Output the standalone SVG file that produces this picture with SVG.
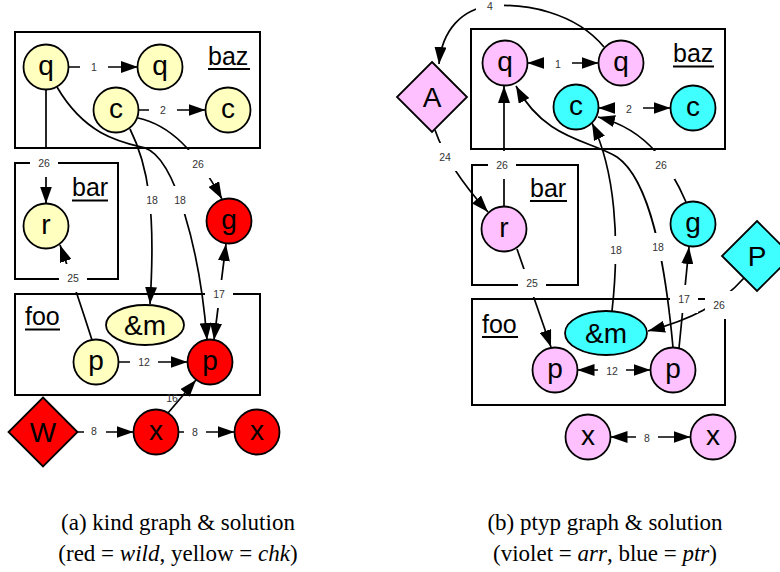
<svg xmlns="http://www.w3.org/2000/svg" width="780" height="572" viewBox="0 0 780 572">
<defs>
<style>
.n{stroke:#000;stroke-width:1.8}
.y{fill:#FFFFC0}.r{fill:#FF0000}.v{fill:#FFC0FF}.b{fill:#40FFFF}
.t{font-family:"Liberation Sans",Arial,sans-serif;font-size:28px;text-anchor:middle;fill:#000}
.bx{fill:none;stroke:#000;stroke-width:2}
.bt{font-family:"Liberation Sans",Arial,sans-serif;font-size:25px;fill:#000}
.ul{stroke:#000;stroke-width:2}
.e{fill:none;stroke:#000;stroke-width:1.7}
.lb{fill:#fff}
.lt{font-family:"Liberation Sans",Arial,sans-serif;font-size:10.5px;text-anchor:middle;fill:#333}
.cap{font-family:"Liberation Serif","Times New Roman",serif;font-size:23px;text-anchor:middle;fill:#000}
</style>
<marker id="ah" markerUnits="userSpaceOnUse" markerWidth="17" markerHeight="12" refX="17" refY="6" orient="auto-start-reverse"><path d="M0,0 L17,6 L0,12 z" fill="#000"/></marker>
</defs>
<rect width="780" height="572" fill="#fff"/>

<!-- boxes -->
<g id="a-baz"><rect class="bx" x="15" y="32" width="245" height="116"/><text class="bt" x="208" y="65">baz</text><line class="ul" x1="208" y1="69" x2="250" y2="69"/></g>
<g id="a-bar"><rect class="bx" x="15" y="163" width="103" height="116"/><text class="bt" x="72" y="196">bar</text><line class="ul" x1="72" y1="200.5" x2="108" y2="200.5"/></g>
<g id="a-foo"><rect class="bx" x="15" y="294" width="245" height="101"/><text class="bt" x="25" y="325">foo</text><line class="ul" x1="25" y1="329.5" x2="60" y2="329.5"/></g>
<g id="b-baz"><rect class="bx" x="471" y="29" width="254" height="120"/><text class="bt" x="673" y="62">baz</text><line class="ul" x1="673" y1="66.5" x2="714" y2="66.5"/></g>
<g id="b-bar"><rect class="bx" x="472" y="165" width="106" height="120"/><text class="bt" x="530" y="197">bar</text><line class="ul" x1="530" y1="201" x2="567" y2="201"/></g>
<g id="b-foo"><rect class="bx" x="472" y="299" width="253" height="106"/><text class="bt" x="482" y="333">foo</text><line class="ul" x1="482" y1="337" x2="518" y2="337"/></g>

<!-- connectors -->
<g id="connectors">
<path class="e" d="M68.5 67 L138 67" marker-end="url(#ah)"/>
<path class="e" d="M138.5 110 L205.5 110" marker-end="url(#ah)"/>
<path class="e" d="M46 89.5 L46 203.5" marker-end="url(#ah)"/>
<path class="e" d="M92 340 Q76 290 60 245" marker-end="url(#ah)"/>
<path class="e" d="M138 118 C170 125 195 150 222 199" marker-end="url(#ah)"/>
<path class="e" d="M130 129 C148 165 156 210 150 304" marker-end="url(#ah)"/>
<path class="e" d="M57 87 C85 135 120 142 145 148 C175 158 200 250 207 340" marker-end="url(#ah)"/>
<path class="e" d="M226 244 L214 340" marker-start="url(#ah)" marker-end="url(#ah)"/>
<path class="e" d="M118.5 362 L187.5 362" marker-end="url(#ah)"/>
<path class="e" d="M77.5 432 L133.5 432" marker-end="url(#ah)"/>
<path class="e" d="M178.5 432 L234.5 432" marker-end="url(#ah)"/>
<path class="e" d="M168 413 L196 380" marker-end="url(#ah)"/>

<path class="e" d="M527.5 63 L598.5 63" marker-start="url(#ah)" marker-end="url(#ah)"/>
<path class="e" d="M598.5 108 L670.5 108" marker-start="url(#ah)" marker-end="url(#ah)"/>
<path class="e" d="M604 47 C575 12 525 3 490 6 C462 9 442 30 439 64" marker-end="url(#ah)"/>
<path class="e" d="M435 130 Q448 168 488 212" marker-end="url(#ah)"/>
<path class="e" d="M504 206.5 L504 86" marker-end="url(#ah)"/>
<path class="e" d="M517 249 L551 347" marker-end="url(#ah)"/>
<path class="e" d="M577.5 370 L650.5 370" marker-start="url(#ah)" marker-end="url(#ah)"/>
<path class="e" d="M610.5 437 L690.5 437" marker-start="url(#ah)" marker-end="url(#ah)"/>
<path class="e" d="M686 202 C672 170 650 130 598 117" marker-end="url(#ah)"/>
<path class="e" d="M744 278 C720 305 690 320 648 331" marker-end="url(#ah)"/>
<path class="e" d="M679 348 L689 247" marker-end="url(#ah)"/>
<path class="e" d="M612 311 C620 240 615 170 592 123" marker-end="url(#ah)"/>
<path class="e" d="M673 347.5 C665 260 650 180 617 157 C590 140 545 140 516 86" marker-end="url(#ah)"/>

<!-- labels -->
<rect class="lb" x="80" y="60" width="28" height="14"/><text class="lt" x="94" y="71">1</text>
<rect class="lb" x="149" y="103" width="28" height="14"/><text class="lt" x="163" y="114">2</text>
<rect class="lb" x="30" y="149" width="28" height="28"/><text class="lt" x="44" y="167">26</text>
<rect class="lb" x="59" y="264" width="28" height="28"/><text class="lt" x="73" y="282">25</text>
<rect class="lb" x="184" y="150" width="28" height="28"/><text class="lt" x="198" y="168">26</text>
<rect class="lb" x="138" y="186" width="28" height="28"/><text class="lt" x="152" y="204">18</text>
<rect class="lb" x="166" y="186" width="28" height="28"/><text class="lt" x="180" y="204">18</text>
<rect class="lb" x="205" y="280" width="28" height="28"/><text class="lt" x="219" y="298">17</text>
<rect class="lb" x="130" y="355" width="28" height="14"/><text class="lt" x="144" y="366">12</text>
<rect class="lb" x="84" y="425" width="22" height="14"/><text class="lt" x="94" y="435">8</text>
<rect class="lb" x="184" y="425" width="22" height="14"/><text class="lt" x="195" y="436">8</text>
<text class="lt" x="172" y="402">16</text>

<rect class="lb" x="544" y="56" width="28" height="14"/><text class="lt" x="558" y="68">1</text>
<rect class="lb" x="615" y="101" width="28" height="14"/><text class="lt" x="629" y="113">2</text>
<rect class="lb" x="476" y="-1" width="28" height="14"/><text class="lt" x="490" y="10">4</text>
<rect class="lb" x="431" y="143" width="28" height="28"/><text class="lt" x="445" y="161">24</text>
<rect class="lb" x="488" y="151" width="28" height="28"/><text class="lt" x="502" y="169">26</text>
<rect class="lb" x="518" y="269" width="28" height="28"/><text class="lt" x="532" y="287">25</text>
<rect class="lb" x="647" y="151" width="28" height="28"/><text class="lt" x="661" y="169">26</text>
<rect class="lb" x="602" y="236" width="28" height="28"/><text class="lt" x="616" y="254">18</text>
<rect class="lb" x="644" y="233" width="28" height="28"/><text class="lt" x="658" y="251">18</text>
<rect class="lb" x="670" y="285" width="28" height="28"/><text class="lt" x="684" y="303">17</text>
<rect class="lb" x="705" y="291" width="28" height="28"/><text class="lt" x="719" y="309">26</text>
<rect class="lb" x="598" y="364" width="28" height="14"/><text class="lt" x="612" y="375">12</text>
<rect class="lb" x="636" y="431" width="22" height="14"/><text class="lt" x="647" y="442">8</text>
</g>

<!-- nodes (a) -->
<g id="a-q1"><circle class="n y" cx="46" cy="67" r="22.5"/><text class="t" x="46" y="74.5">q</text></g>
<g id="a-q2"><circle class="n y" cx="160" cy="67" r="22.5"/><text class="t" x="160" y="74.5">q</text></g>
<g id="a-c1"><circle class="n y" cx="116" cy="110" r="22.5"/><text class="t" x="116" y="117.5">c</text></g>
<g id="a-c2"><circle class="n y" cx="228" cy="110" r="22.5"/><text class="t" x="228" y="117.5">c</text></g>
<g id="a-r"><circle class="n y" cx="46" cy="226" r="22.5"/><text class="t" x="46" y="233.5">r</text></g>
<g id="a-g"><circle class="n r" cx="229" cy="221" r="22.5"/><text class="t" x="229" y="228.5">g</text></g>
<g id="a-m"><ellipse class="n y" cx="145" cy="325" rx="39" ry="20"/><text class="t" x="145" y="335">&amp;m</text></g>
<g id="a-p1"><circle class="n y" cx="96" cy="362" r="22.5"/><text class="t" x="96" y="369.5">p</text></g>
<g id="a-p2"><circle class="n r" cx="210" cy="362" r="22.5"/><text class="t" x="210" y="369.5">p</text></g>
<g id="a-W"><polygon class="n r" points="43,397.5 77.5,432 43,466.5 8.5,432"/><text class="t" x="43" y="442">W</text></g>
<g id="a-x1"><circle class="n r" cx="156" cy="432" r="22.5"/><text class="t" x="156" y="439.5">x</text></g>
<g id="a-x2"><circle class="n r" cx="257" cy="432" r="22.5"/><text class="t" x="257" y="439.5">x</text></g>

<!-- nodes (b) -->
<g id="b-q1"><circle class="n v" cx="505" cy="63" r="22.5"/><text class="t" x="505" y="70.5">q</text></g>
<g id="b-q2"><circle class="n v" cx="621" cy="63" r="22.5"/><text class="t" x="621" y="70.5">q</text></g>
<g id="b-c1"><circle class="n b" cx="576" cy="107" r="22.5"/><text class="t" x="576" y="114.5">c</text></g>
<g id="b-c2"><circle class="n b" cx="693" cy="108" r="22.5"/><text class="t" x="693" y="115.5">c</text></g>
<g id="b-A"><polygon class="n v" points="432,62 467,97 432,132 397,97"/><text class="t" x="432" y="107">A</text></g>
<g id="b-r"><circle class="n v" cx="504" cy="229" r="22.5"/><text class="t" x="504" y="236.5">r</text></g>
<g id="b-g"><circle class="n b" cx="693" cy="224" r="22.5"/><text class="t" x="693" y="231.5">g</text></g>
<g id="b-P"><polygon class="n b" points="757,221 792,256 757,291 722,256"/><text class="t" x="757" y="266">P</text></g>
<g id="b-m"><ellipse class="n b" cx="606" cy="333" rx="41" ry="22"/><text class="t" x="606" y="343">&amp;m</text></g>
<g id="b-p1"><circle class="n v" cx="555" cy="370" r="22.5"/><text class="t" x="555" y="377.5">p</text></g>
<g id="b-p2"><circle class="n v" cx="673" cy="370" r="22.5"/><text class="t" x="673" y="377.5">p</text></g>
<g id="b-x1"><circle class="n v" cx="588" cy="437" r="22.5"/><text class="t" x="588" y="444.5">x</text></g>
<g id="b-x2"><circle class="n v" cx="713" cy="437" r="22.5"/><text class="t" x="713" y="444.5">x</text></g>

<!-- captions -->
<text class="cap" x="178" y="530">(a) kind graph &amp; solution</text>
<text class="cap" x="178" y="561">(red = <tspan font-style="italic">wild</tspan>, yellow = <tspan font-style="italic">chk</tspan>)</text>
<text class="cap" x="605" y="530">(b) ptyp graph &amp; solution</text>
<text class="cap" x="605" y="561">(violet = <tspan font-style="italic">arr</tspan>, blue = <tspan font-style="italic">ptr</tspan>)</text>
</svg>
